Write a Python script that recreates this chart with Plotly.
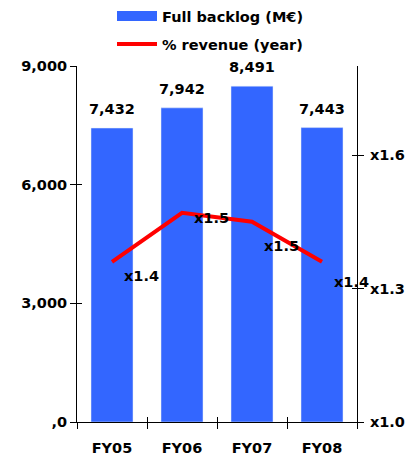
import plotly.graph_objects as go

categories = ["FY05", "FY06", "FY07", "FY08"]
backlog = [7432, 7942, 8491, 7443]
revenue_ratio = [1.36, 1.47, 1.45, 1.36]
ratio_labels = ["x1.4", "x1.5", "x1.5", "x1.4"]
left_tickvals = [0, 3000, 6000, 9000]
left_ticktext = [",0", "3,000", "6,000", "9,000"]

BLUE = "#3366FF"
RED = "#FF0000"
FONT = dict(family="DejaVu Sans", size=14.5, color="black", weight="bold")

fig = go.Figure()
fig.add_trace(go.Bar(x=categories, y=backlog, marker_color=BLUE, width=0.6,
                     showlegend=False, name="Full backlog (M€)", cliponaxis=False))
# legend proxy for the bar series (wide swatch)
fig.add_trace(go.Scatter(x=[None], y=[None], mode="lines", line=dict(color=BLUE, width=12),
                         name="Full backlog (M€)", legendgroup="a"))
fig.add_trace(go.Scatter(x=categories, y=revenue_ratio, mode="lines", yaxis="y2",
                         line=dict(color=RED, width=4), name="% revenue (year)",
                         legendgroup="b", cliponaxis=False))
# empty traces so the inner-tick overlay axes get drawn
fig.add_trace(go.Scatter(x=[None], y=[None], xaxis="x", yaxis="y3", mode="lines",
                         showlegend=False, hoverinfo="skip"))
fig.add_trace(go.Scatter(x=[None], y=[None], xaxis="x", yaxis="y4", mode="lines",
                         showlegend=False, hoverinfo="skip"))
fig.add_trace(go.Scatter(x=[None], y=[None], xaxis="x2", yaxis="y", mode="lines",
                         showlegend=False, hoverinfo="skip"))

annotations = []
for c, v in zip(categories, backlog):
    annotations.append(dict(x=c, y=v, xref="x", yref="y", text=f"{v:,}", showarrow=False,
                            yanchor="bottom", yshift=9, font=FONT))
label_shift = [-14, -5, -24, -20]
for c, v, t, s in zip(categories, revenue_ratio, ratio_labels, label_shift):
    annotations.append(dict(x=c, y=v, xref="x", yref="y2", text=t, showarrow=False,
                            xanchor="left", yanchor="middle", xshift=10, yshift=s, font=FONT))

fig.update_layout(
    width=410, height=461,
    margin=dict(l=77, r=53, t=66, b=39, autoexpand=False),
    paper_bgcolor="white", plot_bgcolor="white",
    font=FONT,
    bargap=0.4,
    legend=dict(x=0.125, y=1.185, xanchor="left", yanchor="top", orientation="v",
                itemwidth=40, tracegroupgap=6, bgcolor="rgba(0,0,0,0)", font=FONT),
    xaxis=dict(type="category", categoryarray=categories, range=[-0.5, 3.5],
               tickson="boundaries", ticks="outside", ticklen=6, tickcolor="black",
               ticklabelstandoff=13,
               showline=True, linecolor="black", linewidth=1, showgrid=False, zeroline=False),
    yaxis=dict(range=[0, 9000], tickvals=left_tickvals, ticktext=left_ticktext,
               ticks="outside", ticklen=6, tickcolor="black", showline=True,
               linecolor="black", linewidth=1, showgrid=False, zeroline=False),
    yaxis2=dict(range=[1.0, 1.8], dtick=0.3, tick0=1.0, tickprefix="x", tickformat=".1f",
                overlaying="y", side="right", ticks="outside", ticklen=6, tickcolor="black",
                ticklabelstandoff=3,
                showline=True, linecolor="black", linewidth=1, showgrid=False, zeroline=False),
    yaxis3=dict(range=[0, 9000], tickvals=left_tickvals, overlaying="y", side="left",
                anchor="x", ticks="inside", ticklen=5, tickcolor="black",
                showticklabels=False, showline=False, showgrid=False, zeroline=False),
    yaxis4=dict(range=[1.0, 1.8], dtick=0.3, tick0=1.0, overlaying="y", side="right",
                anchor="x", ticks="inside", ticklen=5, tickcolor="black",
                showticklabels=False, showline=False, showgrid=False, zeroline=False),
    xaxis2=dict(type="linear", range=[-0.5, 3.5], tickvals=[-0.5, 0.5, 1.5, 2.5, 3.5],
                overlaying="x", side="bottom", anchor="y", ticks="inside", ticklen=5,
                tickcolor="black", showticklabels=False, showline=False, showgrid=False,
                zeroline=False),
    annotations=annotations,
)

fig.write_html("out.html", config={"displayModeBar": False},
               post_script="document.body.style.margin='0';")
